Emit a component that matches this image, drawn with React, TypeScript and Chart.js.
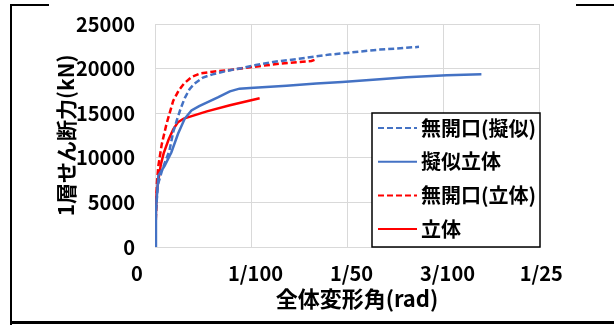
import { useEffect, useRef } from 'react';
import { Chart, registerables } from 'chart.js';

Chart.register(...registerables);

const FONT = '"Noto Sans CJK JP", "Noto Sans", sans-serif';

// x tick values and labels (rad)
const xTickValues = [0, 0.01, 0.02, 0.03, 0.04];
const xTickLabels = ['0', '1/100', '1/50', '3/100', '1/25'];
const yTickValues = [0, 5000, 10000, 15000, 20000, 25000];

const seriesLabels = ['無開口(擬似)', '擬似立体', '無開口(立体)', '立体'];

// 無開口(擬似)
const s1x = [0, 0.0001, 0.0003, 0.0008, 0.0015, 0.0019, 0.0023, 0.0027, 0.0031, 0.0036, 0.0041, 0.005, 0.006, 0.0075, 0.009, 0.0105, 0.0123, 0.015, 0.0168, 0.0182, 0.02, 0.0217, 0.0234, 0.0252, 0.0275];
const s1y = [0, 4000, 7000, 8800, 10800, 12900, 14300, 15600, 16700, 17700, 18300, 19000, 19350, 19750, 20050, 20400, 20750, 21100, 21380, 21570, 21760, 21950, 22130, 22250, 22440];

// 擬似立体
const s2x = [0, 0.0001, 0.00035, 0.001, 0.0017, 0.0024, 0.0031, 0.0038, 0.0046, 0.0056, 0.0066, 0.0078, 0.0088, 0.0099, 0.0137, 0.0168, 0.0195, 0.0227, 0.0262, 0.0304, 0.034];
const s2y = [0, 4200, 8000, 9100, 10600, 12700, 14400, 15300, 15800, 16300, 16800, 17450, 17750, 17830, 18090, 18330, 18500, 18760, 19020, 19250, 19360];

// 無開口(立体)
const s3x = [0, 0.0001, 0.0002, 0.00035, 0.0007, 0.0012, 0.0019, 0.0025, 0.003, 0.0038, 0.0047, 0.006, 0.0078, 0.0099, 0.013, 0.0163, 0.0168];
const s3y = [0, 3500, 7200, 9100, 11500, 13800, 16400, 17600, 18300, 19050, 19450, 19650, 19850, 20150, 20550, 20850, 21050];

// 立体
const s4x = [0, 0.00005, 0.00017, 0.00035, 0.0006, 0.0009, 0.0014, 0.0019, 0.0024, 0.003, 0.0054, 0.0078, 0.0109];
const s4y = [0, 2500, 6000, 7500, 9200, 10500, 12000, 13200, 14000, 14400, 15200, 15900, 16680];

const BLUE = '#4472C4';
const RED = '#FF0000';

const zip = (xs: number[], ys: number[]) => xs.map((x, i) => ({ x, y: ys[i] }));

const legendPlugin = {
  id: 'boxLegend',
  afterDraw(chart: any) {
    const ctx = chart.ctx as CanvasRenderingContext2D;
    const area = chart.chartArea;
    const w = 168;
    const h = 134;
    const x0 = area.right - w + 1;
    const y0 = area.bottom - h;
    ctx.save();
    ctx.fillStyle = '#ffffff';
    ctx.fillRect(x0, y0, w, h);
    ctx.strokeStyle = '#000000';
    ctx.lineWidth = 1.5;
    ctx.strokeRect(x0, y0, w, h);
    chart.data.datasets.forEach((ds: any, i: number) => {
      const cy = y0 + 15 + i * 33.7;
      ctx.beginPath();
      ctx.setLineDash(ds.borderDash || []);
      ctx.strokeStyle = ds.borderColor;
      ctx.lineWidth = 2;
      ctx.moveTo(x0 + 6, cy);
      ctx.lineTo(x0 + 45, cy);
      ctx.stroke();
      ctx.setLineDash([]);
      ctx.fillStyle = '#000000';
      ctx.font = `bold 20px ${FONT}`;
      ctx.textBaseline = 'middle';
      ctx.textAlign = 'left';
      ctx.fillText(ds.label, x0 + 49, cy);
    });
    ctx.restore();
  },
};

const framePlugin = {
  id: 'frame',
  afterDraw(chart: any) {
    const ctx = chart.ctx as CanvasRenderingContext2D;
    ctx.save();
    ctx.strokeStyle = '#000000';
    ctx.lineWidth = 2;
    ctx.beginPath();
    ctx.moveTo(11, 4);
    ctx.lineTo(11, 325);
    ctx.moveTo(10, 5);
    ctx.lineTo(49, 5);
    ctx.moveTo(576, 5);
    ctx.lineTo(614, 5);
    ctx.stroke();
    ctx.lineWidth = 3;
    ctx.beginPath();
    ctx.moveTo(10, 322.5);
    ctx.lineTo(614, 322.5);
    ctx.stroke();
    ctx.restore();
  },
};

export default function App() {
  const ref = useRef<HTMLCanvasElement | null>(null);

  useEffect(() => {
    if (!ref.current) return;
    const chart = new Chart(ref.current, {
      type: 'scatter',
      data: {
        datasets: [
          { label: seriesLabels[0], data: zip(s1x, s1y), borderColor: BLUE, backgroundColor: BLUE, borderDash: [6, 3], borderWidth: 2.5, showLine: true, pointRadius: 0, tension: 0 },
          { label: seriesLabels[1], data: zip(s2x, s2y), borderColor: BLUE, backgroundColor: BLUE, borderDash: [], borderWidth: 2.5, showLine: true, pointRadius: 0, tension: 0 },
          { label: seriesLabels[2], data: zip(s3x, s3y), borderColor: RED, backgroundColor: RED, borderDash: [6, 3], borderWidth: 2.5, showLine: true, pointRadius: 0, tension: 0 },
          { label: seriesLabels[3], data: zip(s4x, s4y), borderColor: RED, backgroundColor: RED, borderDash: [], borderWidth: 2.5, showLine: true, pointRadius: 0, tension: 0 },
        ],
      },
      options: {
        animation: false,
        responsive: false,
        layout: { padding: { left: 0, right: 75, top: 24, bottom: 0 } },
        plugins: {
          legend: { display: false },
          tooltip: { enabled: false },
        },
        scales: {
          x: {
            type: 'linear',
            min: 0,
            max: 0.04,
            afterFit: (scale: any) => { scale.height = 78; scale.paddingLeft = 0; scale.paddingRight = 0; },
            afterBuildTicks: (scale: any) => { scale.ticks = xTickValues.map((v) => ({ value: v })); },
            grid: { color: '#d9d9d9', drawTicks: false, lineWidth: 1 },
            border: { color: '#d9d9d9', width: 1 },
            ticks: {
              padding: 14,
              color: '#000000',
              font: { family: FONT, size: 20, weight: 'bold' },
              maxRotation: 0,
              autoSkip: false,
              callback: (_v: any, i: number) => {
                const t = xTickLabels[i];
                if (i === 0) return t + '        ';
                if (i === xTickLabels.length - 1) return ' ' + t;
                return '  ' + t;
              },
            },
            title: {
              display: true,
              text: '    全体変形角(rad)',
              color: '#000000',
              font: { family: FONT, size: 22, weight: 'bold' },
              padding: { top: 0, bottom: 13 },
            },
          },
          y: {
            type: 'linear',
            min: 0,
            max: 25000,
            afterFit: (scale: any) => { scale.width = 155; scale.paddingTop = 0; scale.paddingBottom = 0; },
            afterBuildTicks: (scale: any) => { scale.ticks = yTickValues.map((v) => ({ value: v })); },
            grid: { color: '#d9d9d9', drawTicks: false, lineWidth: 1 },
            border: { color: '#d9d9d9', width: 1 },
            ticks: {
              padding: 20,
              color: '#000000',
              font: { family: FONT, size: 20, weight: 'bold' },
              callback: (v: any) => String(v),
            },
            title: {
              display: true,
              text: '1層せん断力(kN)',
              color: '#000000',
              font: { family: FONT, size: 21, weight: 'bold' },
              padding: { top: 53, bottom: 0 },
            },
          },
        },
      },
      plugins: [legendPlugin, framePlugin],
    });
    return () => chart.destroy();
  }, []);

  return (
    <div style={{ position: 'fixed', left: 0, top: 0, width: 614, height: 325, background: '#ffffff' }}>
      <canvas ref={ref} width={614} height={325} style={{ width: 614, height: 325, display: 'block' }} />
    </div>
  );
}
